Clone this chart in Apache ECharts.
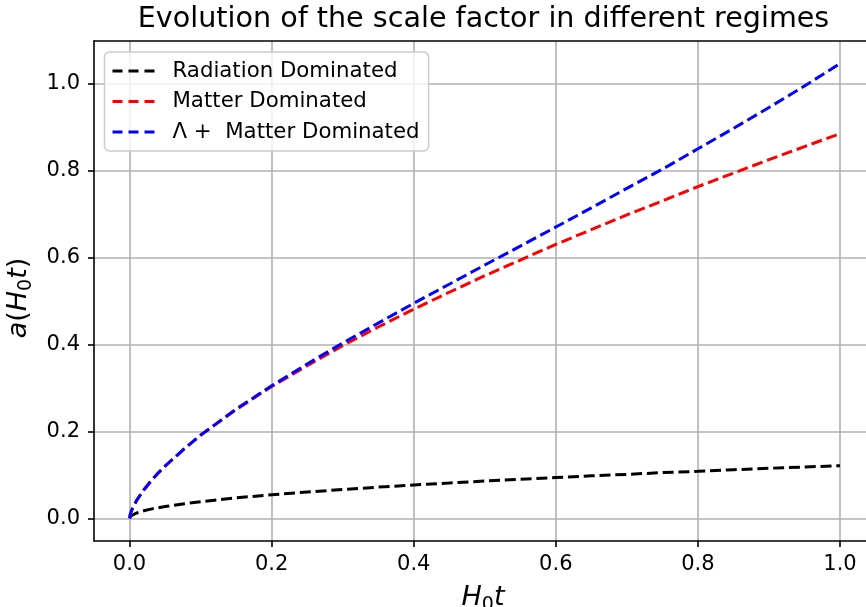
<!DOCTYPE html>
<html>
<head>
<meta charset="utf-8">
<script src="https://cdn.jsdelivr.net/npm/echarts@6/dist/echarts.min.js"></script>
<style>html,body{margin:0;padding:0;background:#fff}#c{width:866px;height:607px}</style>
</head>
<body>
<div id="c"></div>
<script>
// Values
var tValues = [0, 0.001, 0.0025, 0.005, 0.01, 0.02, 0.03, 0.04, 0.05, 0.075, 0.1, 0.15, 0.2, 0.25, 0.3, 0.35, 0.4, 0.45, 0.5, 0.55, 0.6, 0.65, 0.7, 0.75, 0.8, 0.85, 0.9, 0.95, 1.0];
var radiation = [0, 0.0038, 0.006, 0.0086, 0.0121, 0.0171, 0.021, 0.0242, 0.027, 0.033, 0.038, 0.047, 0.054, 0.0605, 0.066, 0.0716, 0.0765, 0.081, 0.0856, 0.0897, 0.0937, 0.0976, 0.101, 0.105, 0.108, 0.1116, 0.115, 0.118, 0.121];
var matter = [0, 0.0089, 0.0163, 0.0259, 0.041, 0.065, 0.0854, 0.1035, 0.120, 0.157, 0.191, 0.250, 0.303, 0.351, 0.397, 0.440, 0.481, 0.520, 0.558, 0.594, 0.630, 0.664, 0.698, 0.730, 0.763, 0.794, 0.825, 0.855, 0.885];
var lambdaMatter = [0, 0.0089, 0.0163, 0.0259, 0.041, 0.065, 0.0854, 0.1035, 0.120, 0.157, 0.1913, 0.251, 0.305, 0.355, 0.403, 0.449, 0.4945, 0.5385, 0.5826, 0.626, 0.670, 0.714, 0.759, 0.803, 0.850, 0.897, 0.945, 0.9945, 1.046];
var seriesNames = ['Radiation Dominated', 'Matter Dominated', 'Λ +  Matter Dominated'];
var xTicks = [0, 0.2, 0.4, 0.6, 0.8, 1.0];
var yTicks = [0, 0.2, 0.4, 0.6, 0.8, 1.0];

function pairs(ys) { return tValues.map(function (t, i) { return [t, ys[i]]; }); }

var FONT = 'DejaVu Sans';
var chart = echarts.init(document.getElementById('c'), null, { renderer: 'canvas' });
var DASH_ICON = 'path://M0,0h10v3h-10z M16,0h10v3h-10z M32,0h10v3h-10z';
function mkSeries(name, color, ys) {
  return {
    name: name, type: 'line', data: pairs(ys), symbol: 'none', showSymbol: false,
    smooth: false, clip: true, animation: false,
    lineStyle: { color: color, width: 3, type: [11, 4.8] },
    itemStyle: { color: color }
  };
}
var nameRich = {
  i: { fontFamily: FONT, fontSize: 27, fontStyle: 'italic', color: '#000', lineHeight: 34, verticalAlign: 'middle' },
  r: { fontFamily: FONT, fontSize: 27, color: '#000', lineHeight: 34, verticalAlign: 'middle' },
  s: { fontFamily: FONT, fontSize: 19, color: '#000', lineHeight: 21, verticalAlign: 'bottom' }
};
chart.setOption({
  backgroundColor: '#ffffff',
  animation: false,
  graphic: [{
    type: 'text', x: 483.5, y: 19.5,
    style: { text: 'Evolution of the scale factor in different regimes', fontFamily: FONT, fontSize: 28.6,
      fill: '#000', align: 'center', verticalAlign: 'middle' }
  }],
  grid: { left: 94, top: 41, width: 772, height: 500, show: false, containLabel: false, outerBoundsMode: 'none' },
  legend: {
    orient: 'vertical', left: 104.5, top: 52, padding: [8.5, 9, 8.5, 8],
    itemWidth: 44, itemHeight: 3, itemGap: 9.5,
    icon: DASH_ICON,
    backgroundColor: 'rgba(255,255,255,0.8)', borderColor: '#cccccc', borderWidth: 1.5, borderRadius: 5,
    textStyle: { fontFamily: FONT, fontSize: 21.3, color: '#000', padding: [0, 0, 0, 12], lineHeight: 21 },
    data: seriesNames
  },
  xAxis: [{
    type: 'value', min: -0.05, max: 1.0366,
    name: '{i|H}{s|0}{i|t}', nameLocation: 'middle', nameGap: 40,
    nameTextStyle: { rich: nameRich, padding: [0, 0, 0, 6] },
    axisLine: { show: true, onZero: false, lineStyle: { color: '#000', width: 1.6 } },
    axisTick: { show: true, length: 6, lineStyle: { color: '#000', width: 1.6 }, customValues: xTicks },
    axisLabel: { fontFamily: FONT, fontSize: 21, color: '#000', margin: 13, customValues: xTicks,
      formatter: function (v) { return v.toFixed(1); } },
    splitLine: { show: true, lineStyle: { color: '#b0b0b0', width: 1.6 } }
  }, {
    type: 'value', position: 'top', min: -0.05, max: 1.0366,
    axisLine: { show: true, onZero: false, lineStyle: { color: '#000', width: 1.6 } },
    axisTick: { show: false }, axisLabel: { show: false }, splitLine: { show: false }
  }],
  yAxis: {
    type: 'value', min: -0.0523, max: 1.098,
    name: '{i|a}{r|(}{i|H}{s|0}{i|t}{r|)}', nameLocation: 'middle', nameGap: 47, nameRotate: 90,
    nameTextStyle: { rich: nameRich, padding: [0, 14, 0, 0] },
    axisLine: { show: true, onZero: false, lineStyle: { color: '#000', width: 1.6 } },
    axisTick: { show: true, length: 6, lineStyle: { color: '#000', width: 1.6 }, customValues: yTicks },
    axisLabel: { fontFamily: FONT, fontSize: 21, color: '#000', margin: 14, customValues: yTicks,
      formatter: function (v) { return v.toFixed(1); } },
    splitLine: { show: true, lineStyle: { color: '#b0b0b0', width: 1.6 } }
  },
  series: [
    mkSeries(seriesNames[0], '#000000', radiation),
    mkSeries(seriesNames[1], '#ff0000', matter),
    mkSeries(seriesNames[2], '#0000ff', lambdaMatter)
  ]
});
</script>
</body>
</html>
